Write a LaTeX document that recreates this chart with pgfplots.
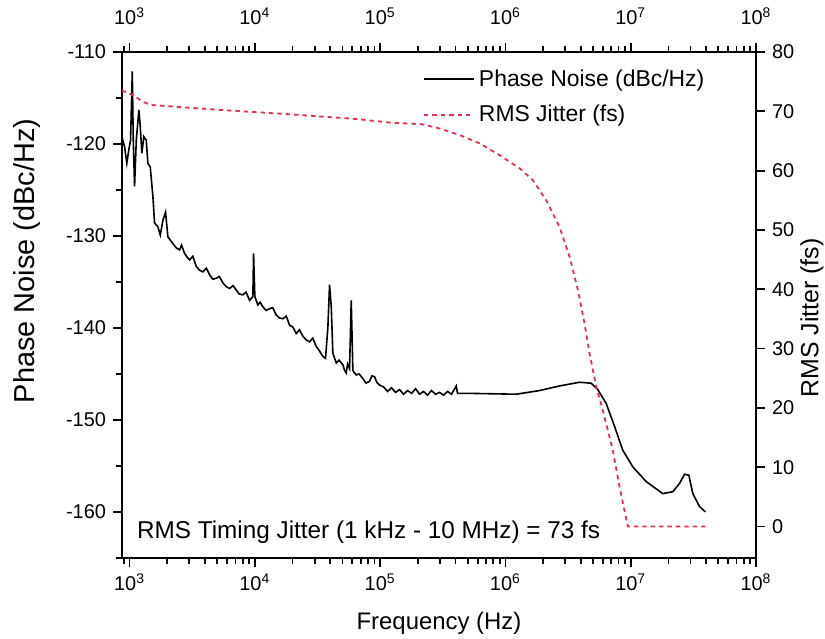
\documentclass[border=0pt]{standalone}
\usepackage{fontspec}
\setmainfont{Liberation Sans}
\usepackage{pgfplots}
\pgfplotsset{compat=1.18}
\definecolor{jred}{RGB}{232,48,78}
\pgfplotstableread{
f pn
868 -119.2
912 -120.3
951 -122.1
987 -120.6
1018 -119.6
1051 -112.1
1070 -119.6
1096 -124.6
1131 -119.6
1186 -116.3
1217 -118.1
1253 -121.0
1300 -119.2
1359 -119.6
1400 -122.1
1462 -122.5
1535 -125.7
1583 -128.6
1683 -129.0
1758 -129.9
1845 -128.3
1937 -127.4
2022 -130.1
2153 -130.6
2360 -131.3
2506 -131.5
2600 -131.0
2748 -131.9
2880 -132.3
3013 -132.6
3200 -132.2
3404 -133.3
3600 -133.7
3846 -133.9
4100 -133.5
4347 -134.2
4600 -134.7
4915 -134.6
5200 -134.4
5559 -135.1
5900 -135.5
6281 -135.7
6700 -135.4
7109 -135.9
7500 -136.3
8020 -136.4
8500 -136.1
9080 -137.0
9640 -136.6
9763 -131.9
10000 -136.6
10570 -137.5
11000 -137.2
11580 -137.7
12300 -138.1
13100 -137.9
13900 -137.8
14820 -138.6
15700 -138.9
16750 -139.0
17800 -138.7
18930 -139.7
20100 -139.9
21400 -140.6
22700 -140.2
24170 -140.9
25700 -141.3
27330 -141.5
29000 -141.1
30900 -142.0
32800 -142.5
34910 -143.1
36640 -143.3
38280 -139.9
39450 -135.3
40720 -137.7
41930 -142.75
44640 -143.8
47000 -143.5
50400 -144.0
52000 -144.6
53640 -144.9
55000 -143.9
57000 -144.4
58770 -137.0
60560 -144.6
62500 -144.9
64420 -145.1
68000 -145.0
72780 -145.5
77000 -146.0
82300 -145.8
86000 -145.2
90220 -145.3
94000 -145.9
98900 -146.2
106400 -146.4
114600 -146.9
123300 -146.5
132700 -147.0
142900 -146.7
153800 -147.2
165600 -146.8
178300 -147.1
191900 -146.6
206200 -147.2
222000 -146.9
238900 -147.3
257200 -146.8
276800 -147.2
297600 -147.0
320600 -147.3
345100 -146.9
371500 -147.2
404600 -146.3
414700 -147.1
430400 -147.1
486700 -147.1
1219000 -147.2
1871000 -146.8
2704000 -146.3
3899000 -145.9
4840000 -146.0
5460000 -146.7
6370000 -148.2
7430000 -150.7
8650000 -153.3
10400000 -155.1
13300000 -156.7
18000000 -158.0
21700000 -157.8
24500000 -156.9
26900000 -155.9
29100000 -156.0
31300000 -158.0
35400000 -159.4
39500000 -160.0
}\pntable
\pgfplotstableread{
f rj
863 73.5
1062 72.75
1276 71.6
1489 71.06
2216 70.8
5559 70.2
18930 69.5
64420 68.7
118900 68.1
219300 67.8
297600 67.1
430400 66.0
621200 64.6
897400 62.6
1296000 60.4
1654000 58.4
2117000 55.0
2704000 50.5
3249000 45.5
3785000 39.9
4277000 34.25
4690000 29.2
5305000 23.6
5985000 19.6
7190000 12.9
8140000 6.7
9490000 0
10000000 0
39500000 0
}\rjtable
\begin{document}
\begin{tikzpicture}
\begin{axis}[name=ax,
  width=317bp, height=253bp, scale only axis,
  xmode=log, xmin=870, xmax=1e8,
  xtick={1e3,1e4,1e5,1e6,1e7,1e8},
  xticklabels={10\textsuperscript{3},10\textsuperscript{4},10\textsuperscript{5},10\textsuperscript{6},10\textsuperscript{7},10\textsuperscript{8}},
  minor xtick={900,2000,3000,4000,5000,6000,7000,8000,9000,20000,30000,40000,50000,60000,70000,80000,90000,200000,300000,400000,500000,600000,700000,800000,900000,2e6,3e6,4e6,5e6,6e6,7e6,8e6,9e6,2e7,3e7,4e7,5e7,6e7,7e7,8e7,9e7},
  tick align=outside,
  major tick length=4.5bp, minor tick length=3bp,
  axis line style={line width=1bp},
  tick style={line width=0.9bp, black},
  ticklabel style={font=\fontsize{10}{12}\selectfont},
  /pgf/number format/assume math mode=true,
  ymin=-165, ymax=-110,
  ytick={-160,-150,-140,-130,-120,-110},
  minor ytick={-165,-155,-145,-135,-125,-115},
  xtick pos=left, ytick pos=left,
  xticklabel pos=left, yticklabel pos=left,
  xlabel={Frequency (Hz)},
  ylabel={Phase Noise (dBc/Hz)},
  xlabel style={at={(axis description cs:0.5,0)}, anchor=center, yshift=-32.5bp, font=\fontsize{12}{14}\selectfont},
  ylabel style={at={(axis description cs:0,0.587)}, anchor=center, yshift=47.5bp, font=\fontsize{14.5}{16}\selectfont},
]
\addplot[black, line width=0.8bp] table[x=f, y=pn] {\pntable};
\node[anchor=west, inner sep=0pt, font=\fontsize{12.2}{14}\selectfont] at (rel axis cs:0.0232,0.0514) {RMS Timing Jitter (1 kHz - 10 MHz) = 73 fs};
\end{axis}
\begin{axis}[
  width=317bp, height=253bp, scale only axis,
  xmode=log, xmin=870, xmax=1e8,
  xtick={1e3,1e4,1e5,1e6,1e7,1e8},
  xticklabels={10\textsuperscript{3},10\textsuperscript{4},10\textsuperscript{5},10\textsuperscript{6},10\textsuperscript{7},10\textsuperscript{8}},
  minor xtick={900,2000,3000,4000,5000,6000,7000,8000,9000,20000,30000,40000,50000,60000,70000,80000,90000,200000,300000,400000,500000,600000,700000,800000,900000,2e6,3e6,4e6,5e6,6e6,7e6,8e6,9e6,2e7,3e7,4e7,5e7,6e7,7e7,8e7,9e7},
  tick align=outside,
  major tick length=4.5bp, minor tick length=3bp,
  axis line style={line width=1bp},
  tick style={line width=0.9bp, black},
  ticklabel style={font=\fontsize{10}{12}\selectfont},
  xticklabel style={yshift=5.5bp},
  /pgf/number format/assume math mode=true,
  ymin=-5.3, ymax=80,
  ytick={0,10,20,30,40,50,60,70,80},
  minor ytick={},
  xtick pos=right, ytick pos=right,
  xticklabel pos=right, yticklabel pos=right,
  ylabel={RMS Jitter (fs)},
  ylabel style={at={(axis description cs:1,0.474)}, anchor=center, yshift=-28bp, font=\fontsize{12.5}{14}\selectfont},
  legend style={at={(rel axis cs:0.465,0.982)}, anchor=north west, draw=none, fill=none, font=\fontsize{11.5}{13}\selectfont, row sep=4bp},
  legend cell align=left,
  legend image code/.code={\draw[#1] (0bp,0bp) -- (25bp,0bp);},
]
\addlegendimage{black, line width=0.8bp}
\addlegendentry{Phase Noise (dBc/Hz)}
\addplot[jred, line width=0.9bp, dash pattern=on 2.2bp off 2bp] table[x=f, y=rj] {\rjtable};
\addlegendentry{RMS Jitter (fs)}
\end{axis}
\pgfresetboundingbox
\path ([shift={(-61bp,-40.5bp)}]ax.south west) rectangle ([shift={(34.5bp,26bp)}]ax.north east);
\end{tikzpicture}
\end{document}
